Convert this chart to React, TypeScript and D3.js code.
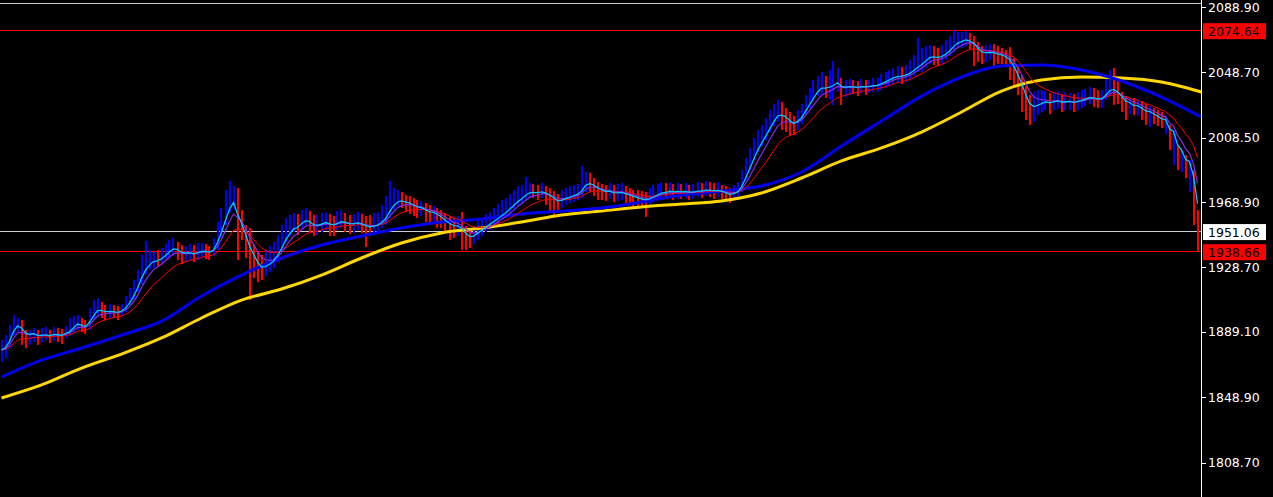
import React from 'react';
import * as d3 from 'd3';

const W = 1273;
const H = 497;
const AXIS_X = 1201.5;

const priceTicks = [2088.9, 2048.7, 2008.5, 1968.9, 1928.7, 1889.1, 1848.9, 1808.7];
const highLevel = 2074.64;
const lastPrice = 1951.06;
const lowLevel = 1938.66;

const closes = [
  1877.9, 1880.9, 1887.1, 1895.1, 1896.3, 1890.2, 1885.3, 1886.5, 1888.4, 1885.9,
  1886.5, 1887.7, 1885.9, 1888.4, 1887.1, 1886.5, 1889.0, 1890.2, 1893.8, 1896.3,
  1892.6, 1891.4, 1897.6, 1902.5, 1905.5, 1902.5, 1900.7, 1901.9, 1901.3, 1900.7,
  1902.5, 1905.5, 1909.8, 1914.8, 1920.9, 1928.3, 1932.0, 1933.2, 1934.5, 1933.2,
  1935.1, 1938.2, 1940.7, 1941.9, 1939.4, 1936.3, 1936.9, 1938.2, 1936.3, 1938.2,
  1939.4, 1938.8, 1937.6, 1940.7, 1948.6, 1956.7, 1965.1, 1971.4, 1972.6, 1954.8,
  1950.5, 1942.5, 1934.5, 1932.0, 1927.1, 1925.9, 1929.5, 1932.0, 1934.5, 1939.4,
  1944.4, 1950.5, 1952.9, 1955.4, 1954.2, 1957.9, 1959.1, 1956.7, 1952.9, 1954.2,
  1956.1, 1957.3, 1954.8, 1954.2, 1956.7, 1957.9, 1956.1, 1954.8, 1955.4, 1956.7,
  1954.8, 1953.6, 1952.9, 1954.2, 1955.4, 1957.9, 1960.9, 1967.1, 1970.2, 1971.4,
  1970.2, 1968.4, 1967.7, 1965.9, 1964.7, 1965.1, 1962.8, 1961.6, 1962.2, 1960.3,
  1957.9, 1955.4, 1954.2, 1952.9, 1954.2, 1951.7, 1946.8, 1945.6, 1948.0, 1951.7,
  1952.9, 1955.4, 1956.7, 1958.5, 1960.3, 1962.2, 1964.0, 1966.5, 1969.0, 1971.4,
  1972.6, 1975.1, 1976.3, 1975.1, 1974.5, 1975.7, 1973.8, 1972.0, 1970.2, 1967.7,
  1970.2, 1972.0, 1972.6, 1973.8, 1974.5, 1977.6, 1982.5, 1981.3, 1978.8, 1976.3,
  1975.1, 1974.5, 1975.7, 1973.8, 1974.5, 1975.1, 1973.2, 1972.6, 1971.4, 1970.8,
  1970.2, 1969.6, 1971.4, 1973.2, 1974.5, 1975.7, 1975.1, 1976.3, 1975.1, 1975.7,
  1975.1, 1975.7, 1974.5, 1975.1, 1976.3, 1975.7, 1976.9, 1976.3, 1975.7, 1976.3,
  1975.1, 1973.8, 1972.6, 1974.5, 1976.3, 1981.3, 1988.6, 1994.8, 2000.9, 2005.9,
  2009.6, 2013.2, 2018.2, 2022.3, 2025.5, 2023.0, 2020.6, 2016.9, 2015.7, 2019.4,
  2023.0, 2028.6, 2032.9, 2036.6, 2040.3, 2041.5, 2039.1, 2040.3, 2041.5, 2044.0,
  2037.8, 2039.1, 2040.3, 2039.7, 2039.1, 2040.3, 2039.7, 2040.3, 2040.9, 2040.9,
  2042.8, 2044.0, 2045.2, 2046.5, 2047.0, 2046.5, 2047.6, 2048.9, 2051.4, 2053.8,
  2055.1, 2057.5, 2060.0, 2058.8, 2057.5, 2058.8, 2061.2, 2063.6, 2067.4, 2068.6,
  2068.6, 2069.8, 2067.4, 2065.5, 2061.2, 2058.8, 2060.0, 2061.2, 2060.6, 2059.3,
  2058.8, 2057.5, 2055.1, 2048.9, 2042.8, 2036.6, 2028.6, 2024.3, 2025.5, 2029.2,
  2030.5, 2031.7, 2029.2, 2031.1, 2031.7, 2029.8, 2030.5, 2031.1, 2029.8, 2031.1,
  2032.3, 2032.9, 2034.1, 2032.9, 2031.7, 2032.3, 2036.6, 2040.3, 2039.1, 2035.3,
  2031.7, 2028.0, 2029.2, 2026.8, 2028.0, 2025.5, 2023.0, 2024.3, 2021.8, 2020.6,
  2018.2, 2019.4, 2008.3, 2010.7, 1996.0, 1997.8, 1989.8, 1991.7, 1976.3, 1951.06,
];

const highs = [
  1884.0, 1887.1, 1893.2, 1899.4, 1897.6, 1896.3, 1890.2, 1890.2, 1891.4, 1890.2,
  1891.4, 1892.0, 1890.2, 1892.0, 1891.4, 1890.8, 1892.6, 1897.6, 1898.8, 1899.4,
  1897.6, 1896.3, 1903.7, 1908.6, 1909.8, 1907.4, 1905.5, 1906.1, 1905.5, 1904.9,
  1906.1, 1911.1, 1916.0, 1920.9, 1927.1, 1936.3, 1945.0, 1939.4, 1938.2, 1939.4,
  1940.7, 1943.1, 1945.6, 1946.8, 1944.4, 1942.5, 1941.9, 1943.1, 1942.5, 1943.8,
  1943.8, 1943.1, 1941.9, 1946.8, 1956.7, 1965.1, 1976.3, 1981.9, 1978.8, 1977.6,
  1964.0, 1954.8, 1952.9, 1942.5, 1938.2, 1936.3, 1939.4, 1941.9, 1944.4, 1948.6,
  1954.8, 1959.1, 1960.9, 1962.2, 1961.6, 1964.0, 1965.1, 1963.4, 1960.9, 1960.9,
  1962.2, 1962.8, 1961.6, 1960.3, 1963.4, 1964.0, 1962.2, 1960.9, 1961.6, 1962.8,
  1961.6, 1960.3, 1960.9, 1962.2, 1962.8, 1967.1, 1972.6, 1981.9, 1977.6, 1976.3,
  1975.1, 1973.2, 1972.6, 1971.4, 1970.2, 1969.6, 1968.4, 1967.1, 1966.5, 1965.1,
  1964.0, 1962.2, 1960.3, 1959.1, 1960.3, 1962.8, 1954.2, 1952.9, 1954.2, 1957.9,
  1959.1, 1961.6, 1962.8, 1965.1, 1967.7, 1970.2, 1971.4, 1973.8, 1976.3, 1978.8,
  1979.4, 1984.3, 1980.7, 1980.0, 1979.4, 1980.7, 1978.8, 1977.6, 1975.7, 1973.8,
  1976.3, 1977.6, 1978.8, 1979.4, 1980.0, 1991.1, 1987.4, 1986.8, 1983.7, 1981.3,
  1980.0, 1979.4, 1980.7, 1979.4, 1980.0, 1980.7, 1978.8, 1977.6, 1976.3, 1976.3,
  1975.7, 1975.1, 1977.6, 1979.4, 1980.0, 1981.3, 1980.7, 1981.3, 1980.0, 1980.7,
  1980.0, 1980.7, 1979.4, 1980.0, 1981.3, 1980.7, 1981.9, 1981.3, 1980.7, 1981.3,
  1979.4, 1978.8, 1977.6, 1979.4, 1981.3, 1988.6, 1996.0, 2002.1, 2008.3, 2013.2,
  2016.3, 2020.6, 2025.5, 2029.2, 2031.7, 2030.5, 2026.8, 2024.3, 2021.8, 2025.5,
  2029.2, 2034.7, 2039.1, 2044.0, 2046.5, 2048.9, 2046.5, 2050.1, 2055.7, 2051.4,
  2045.2, 2044.0, 2044.6, 2044.0, 2043.4, 2044.6, 2044.0, 2044.0, 2045.2, 2045.2,
  2047.6, 2048.9, 2050.1, 2051.4, 2052.6, 2052.0, 2053.2, 2056.3, 2059.3, 2069.8,
  2063.6, 2064.8, 2065.5, 2064.8, 2063.6, 2065.5, 2068.6, 2071.1, 2074.64, 2073.5,
  2073.5, 2074.2, 2072.9, 2071.1, 2067.4, 2064.8, 2065.5, 2066.1, 2066.1, 2064.8,
  2063.6, 2062.4, 2064.2, 2057.5, 2052.6, 2046.5, 2040.3, 2034.7, 2036.6, 2037.8,
  2037.8, 2037.2, 2036.0, 2036.6, 2037.2, 2035.3, 2036.6, 2036.0, 2035.3, 2036.6,
  2037.8, 2038.4, 2039.7, 2039.1, 2037.8, 2037.8, 2046.5, 2050.1, 2051.4, 2044.0,
  2036.6, 2034.1, 2032.9, 2032.9, 2032.3, 2031.1, 2029.2, 2028.0, 2026.8, 2025.5,
  2024.3, 2021.8, 2016.3, 2013.2, 2004.0, 2000.9, 1997.8, 1994.8, 1988.6, 1964.0,
];

const lows = [
  1870.5, 1873.0, 1879.1, 1887.1, 1889.0, 1880.9, 1879.1, 1880.9, 1882.8, 1880.9,
  1882.8, 1884.0, 1882.2, 1883.4, 1882.8, 1881.5, 1885.3, 1886.5, 1888.4, 1890.2,
  1889.0, 1887.7, 1890.2, 1896.3, 1898.8, 1897.6, 1896.3, 1897.6, 1897.6, 1896.3,
  1898.8, 1901.3, 1905.5, 1908.6, 1913.6, 1917.8, 1924.0, 1927.1, 1928.3, 1929.5,
  1930.8, 1933.2, 1935.1, 1935.7, 1933.2, 1930.8, 1932.0, 1933.2, 1932.0, 1933.2,
  1934.5, 1933.8, 1933.2, 1935.7, 1939.4, 1946.8, 1954.8, 1962.8, 1964.0, 1933.2,
  1945.6, 1934.5, 1908.6, 1922.2, 1919.7, 1920.9, 1923.4, 1925.9, 1928.3, 1932.0,
  1938.2, 1944.4, 1948.0, 1950.5, 1948.6, 1951.7, 1954.2, 1950.5, 1948.0, 1948.6,
  1950.5, 1951.7, 1948.0, 1948.0, 1951.7, 1952.9, 1950.5, 1949.2, 1949.8, 1951.7,
  1949.8, 1941.2, 1948.0, 1949.2, 1950.5, 1952.9, 1954.8, 1959.1, 1964.0, 1965.1,
  1965.1, 1962.8, 1961.6, 1960.3, 1959.1, 1960.3, 1956.7, 1954.8, 1956.7, 1952.9,
  1952.9, 1949.2, 1945.6, 1946.8, 1948.0, 1939.4, 1939.4, 1940.7, 1943.1, 1945.6,
  1948.0, 1950.5, 1951.7, 1952.9, 1955.4, 1957.9, 1959.1, 1961.6, 1964.0, 1966.5,
  1967.7, 1970.2, 1971.4, 1971.4, 1970.2, 1971.4, 1967.1, 1962.8, 1960.9, 1962.8,
  1965.1, 1967.1, 1968.4, 1969.0, 1970.2, 1971.4, 1975.1, 1975.1, 1972.6, 1970.2,
  1970.2, 1969.6, 1970.8, 1969.0, 1969.6, 1970.2, 1967.7, 1967.1, 1965.9, 1965.9,
  1965.1, 1959.7, 1966.5, 1969.0, 1970.2, 1971.4, 1970.8, 1971.4, 1970.2, 1970.8,
  1970.8, 1971.4, 1970.2, 1970.8, 1972.0, 1971.4, 1972.6, 1972.0, 1970.8, 1972.0,
  1970.8, 1969.6, 1968.4, 1970.2, 1972.0, 1975.1, 1982.5, 1988.6, 1994.8, 1999.7,
  2003.4, 2007.1, 2012.0, 2015.7, 2018.2, 2013.2, 2012.0, 2009.6, 2010.1, 2013.2,
  2016.9, 2022.3, 2026.8, 2030.5, 2034.1, 2035.3, 2032.9, 2031.7, 2028.6, 2036.6,
  2028.6, 2033.5, 2034.7, 2035.3, 2034.1, 2036.0, 2034.7, 2036.0, 2036.6, 2036.6,
  2037.8, 2039.1, 2040.3, 2041.5, 2042.2, 2041.5, 2042.8, 2044.0, 2046.5, 2048.9,
  2048.9, 2051.4, 2053.8, 2053.2, 2052.6, 2053.8, 2056.3, 2058.8, 2061.2, 2063.6,
  2063.6, 2064.8, 2062.4, 2052.6, 2055.1, 2053.8, 2055.1, 2056.3, 2052.6, 2053.8,
  2053.8, 2052.6, 2044.0, 2040.3, 2034.7, 2024.3, 2019.4, 2016.3, 2018.2, 2022.3,
  2024.3, 2025.5, 2023.0, 2025.5, 2026.1, 2024.3, 2025.5, 2025.5, 2024.3, 2025.5,
  2026.8, 2028.0, 2029.2, 2027.4, 2026.8, 2026.8, 2031.7, 2034.7, 2028.6, 2029.2,
  2024.3, 2019.4, 2023.0, 2022.3, 2021.8, 2019.4, 2016.3, 2015.1, 2016.9, 2015.7,
  2014.4, 2010.7, 2000.9, 1991.7, 1988.6, 1987.4, 1983.7, 1975.1, 1954.8, 1938.66,
];

// slow moving averages, sampled every 10 bars (bar index 0, 10, ..., 300)
const maBlueSlow = [
  1861.3, 1871.7, 1879.1, 1887.1, 1895.7, 1911.1, 1924.0, 1934.5, 1942.5, 1948.0,
  1952.9, 1956.6, 1958.5, 1961.6, 1963.4, 1965.2, 1968.9, 1973.2, 1975.7, 1978.8,
  1987.4, 2003.4, 2018.8, 2034.1, 2045.8, 2052.6, 2053.2, 2050.1, 2043.4, 2033.5,
  2021.2,
];
const maYellowSlow = [
  1848.4, 1856.4, 1866.8, 1875.4, 1885.3, 1897.6, 1908.6, 1915.4, 1924.0, 1934.5,
  1943.7, 1949.9, 1952.9, 1956.6, 1960.9, 1963.4, 1965.9, 1967.7, 1969.6, 1974.5,
  1983.7, 1994.2, 2002.2, 2012.0, 2024.3, 2037.2, 2044.0, 2045.8, 2045.2, 2042.8,
  2036.6,
];

function ema(vals: number[], n: number): number[] {
  const k = 2 / (n + 1);
  const out: number[] = [];
  let prev = vals[0];
  vals.forEach((v, i) => {
    prev = i === 0 ? v : v * k + prev * (1 - k);
    out.push(prev);
  });
  return out;
}

export default function App() {
  const y = d3.scaleLinear().domain([1808.7, 2088.9]).range([462.5, 7]);
  const x = d3.scaleLinear().domain([0, closes.length - 1]).range([1.5, 1197.5]);

  const opens = closes.map((c, i) => (i === 0 ? closes[0] - 1 : closes[i - 1]));

  const fast = ema(closes, 3);
  const mid = ema(closes, 6);
  const slow = ema(closes, 13);

  const lineIdx = d3
    .line<number>()
    .x((_, i) => x(i))
    .y((d) => y(d));
  const lineSampled = d3
    .line<number>()
    .x((_, i) => x(i * 10))
    .y((d) => y(d))
    .curve(d3.curveMonotoneX);

  const font = '"DejaVu Sans", Tahoma, sans-serif';

  const hLines = [
    { v: highLevel, c: '#ff0000' },
    { v: lastPrice, c: '#d0d0d0' },
    { v: lowLevel, c: '#ff0000' },
  ];

  const boxes = [
    { v: highLevel, bg: '#ff0000' },
    { v: lastPrice, bg: '#ffffff' },
    { v: lowLevel, bg: '#ff0000' },
  ];

  return (
    <svg
      width={W}
      height={H}
      style={{ position: 'fixed', left: 0, top: 0, display: 'block', background: '#000' }}
    >
      <rect x={0} y={0} width={W} height={H} fill="#000" />
      <defs>
        <clipPath id="plotClip">
          <rect x={0} y={0} width={AXIS_X} height={H} />
        </clipPath>
      </defs>
      <g clipPath="url(#plotClip)">
        <line
          x1={0}
          x2={AXIS_X}
          y1={3.5}
          y2={3.5}
          stroke="#c8c8c8"
          strokeWidth={1}
          shapeRendering="crispEdges"
        />
        {hLines.map((l, i) => (
          <line
            key={i}
            x1={0}
            x2={AXIS_X}
            y1={Math.round(y(l.v)) + 0.5}
            y2={Math.round(y(l.v)) + 0.5}
            stroke={l.c}
            strokeWidth={1}
            shapeRendering="crispEdges"
          />
        ))}
        {closes.map((c, i) => (
          <line
            key={i}
            x1={Math.round(x(i))}
            x2={Math.round(x(i))}
            y1={y(highs[i])}
            y2={y(lows[i])}
            stroke={c >= opens[i] ? '#0000ff' : '#ff0000'}
            strokeWidth={2}
            shapeRendering="crispEdges"
          />
        ))}
        <path d={lineSampled(maYellowSlow) || ''} fill="none" stroke="#ffd700" strokeWidth={3} />
        <path d={lineSampled(maBlueSlow) || ''} fill="none" stroke="#0000ee" strokeWidth={3} />
        <path d={lineIdx(slow) || ''} fill="none" stroke="#ff0000" strokeWidth={1} />
        <path d={lineIdx(mid) || ''} fill="none" stroke="#8a2be2" strokeWidth={1.2} />
        <path d={lineIdx(fast) || ''} fill="none" stroke="#00c8ff" strokeWidth={1.3} />
      </g>
      <line
        x1={AXIS_X}
        x2={AXIS_X}
        y1={0}
        y2={H}
        stroke="#ffffff"
        strokeWidth={1}
        shapeRendering="crispEdges"
      />
      {priceTicks.map((t) => (
        <g key={t}>
          <line
            x1={AXIS_X}
            x2={AXIS_X + 4}
            y1={Math.round(y(t)) + 0.5}
            y2={Math.round(y(t)) + 0.5}
            stroke="#ffffff"
            shapeRendering="crispEdges"
          />
          <text
            x={1208}
            y={y(t)}
            dy="0.36em"
            fill="#ffffff"
            fontSize={12.5}
            fontFamily={font}
          >
            {t.toFixed(2)}
          </text>
        </g>
      ))}
      {boxes.map((b, i) => {
        const yy = y(b.v);
        return (
          <g key={i}>
            <rect x={1203} y={yy - 7} width={63} height={16} fill={b.bg} />
            <text
              x={1208}
              y={yy + 1}
              dy="0.36em"
              fill="#000000"
              fontSize={12.5}
              fontFamily={font}
            >
              {b.v.toFixed(2)}
            </text>
          </g>
        );
      })}
    </svg>
  );
}
